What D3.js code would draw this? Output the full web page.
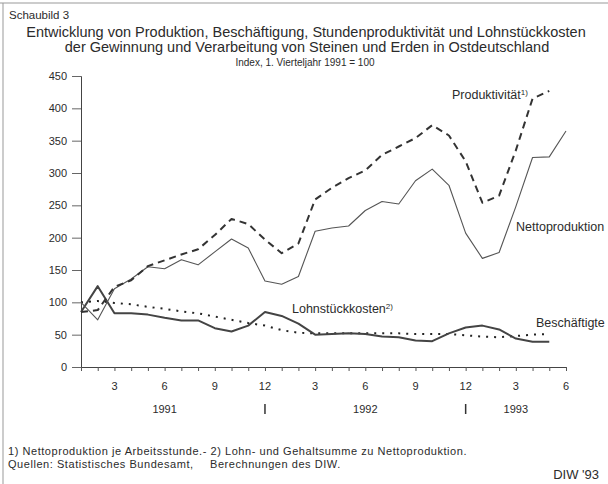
<!DOCTYPE html>
<html lang="de">
<head>
<meta charset="UTF-8">
<title>Schaubild 3</title>
<script src="https://d3js.org/d3.v7.min.js"></script>
<style>
    body { margin: 0; padding: 0; background: #fff; }
    svg { display: block; font-family: "Liberation Sans", Arial, sans-serif; }
    text { fill: #2b2b2b; }
</style>
</head>
<body>
<div id="chart"></div>
<script>
// Monate Jan 1991 .. Jun 1993
const periods = ["1991-01","1991-02","1991-03","1991-04","1991-05","1991-06","1991-07","1991-08","1991-09","1991-10","1991-11","1991-12",
                 "1992-01","1992-02","1992-03","1992-04","1992-05","1992-06","1992-07","1992-08","1992-09","1992-10","1992-11","1992-12",
                 "1993-01","1993-02","1993-03","1993-04","1993-05","1993-06"];
const monthTicks = ["1991-03","1991-06","1991-09","1991-12","1992-03","1992-06","1992-09","1992-12","1993-03","1993-06"];
const yearLabels = [["1991","1991-06"],["1992","1992-06"],["1993","1993-03"]];
const yearBreaks = ["1991-12","1992-12"];
const yTicks = [0, 50, 100, 150, 200, 250, 300, 350, 400, 450];

const nettoproduktion = [100,73,121,136,155,152,166,158,178,198,184,133,128,140,210,215,218,242,256,252,288,306,281,207,168,177,248,324,325,365];
const produktivitaet  = [85,88,124,134,156,165,174,182,204,229,221,197,176,191,259,277,292,304,328,341,354,374,358,318,254,265,335,415,427];
const lohnstueck      = [85,125,83,83,81,76,72,72,60,55,64,85,79,67,50,51,52,51,47,46,41,40,52,61,64,58,44,39,39];
const beschaeftigte   = [100,102,99,97,93,90,86,83,78,73,68,64,57,53,52,52,52,52,52,52,51,51,51,49,47,46,48,50,51];

const W = 608, H = 484;
const svg = d3.select("#chart").append("svg").attr("width", W).attr("height", H);

// Rahmen
svg.append("line").attr("x1", 0).attr("x2", W).attr("y1", 3).attr("y2", 3).attr("stroke", "#999").attr("stroke-width", 1);
svg.append("line").attr("x1", 3).attr("x2", 3).attr("y1", 3).attr("y2", H).attr("stroke", "#999").attr("stroke-width", 1);

// Titel
svg.append("text").attr("x", 9).attr("y", 19).attr("font-size", 11.5).text("Schaubild 3");
svg.append("text").attr("x", 306).attr("y", 37).attr("font-size", 14.5).attr("text-anchor", "middle")
    .text("Entwicklung von Produktion, Beschäftigung, Stundenproduktivität und Lohnstückkosten");
svg.append("text").attr("x", 307).attr("y", 52).attr("font-size", 14.5).attr("text-anchor", "middle")
    .text("der Gewinnung und Verarbeitung von Steinen und Erden in Ostdeutschland");
svg.append("text").attr("x", 305).attr("y", 66).attr("font-size", 10).attr("text-anchor", "middle")
    .text("Index, 1. Vierteljahr 1991 = 100");

const x = d3.scalePoint().domain(periods).range([81, 566]);
const y = d3.scaleLinear().domain([0, 450]).range([367, 76]);

// y-Achse
const yAxis = svg.append("g").attr("transform", "translate(81,0)")
    .call(d3.axisLeft(y).tickValues(yTicks).tickSize(9).tickPadding(5));
yAxis.select(".domain").attr("stroke", "#444");
yAxis.selectAll(".tick line").attr("stroke", "#666");
yAxis.selectAll("text").attr("font-size", 11).attr("font-family", "Liberation Sans, Arial, sans-serif").attr("fill", "#2b2b2b");

// x-Achse
const xAxis = svg.append("g").attr("transform", "translate(0,367)")
    .call(d3.axisBottom(x).tickSize(4).tickSizeOuter(0).tickFormat(""));
xAxis.select(".domain").attr("stroke", "#444");
xAxis.selectAll(".tick line").attr("stroke", "#555");

svg.append("g").selectAll("text").data(monthTicks).join("text")
    .attr("x", d => x(d)).attr("y", 390).attr("font-size", 11).attr("text-anchor", "middle")
    .text(d => +d.slice(5));
svg.append("g").selectAll("text").data(yearLabels).join("text")
    .attr("x", d => x(d[1])).attr("y", 413).attr("font-size", 11).attr("text-anchor", "middle")
    .text(d => d[0]);
svg.append("g").selectAll("line").data(yearBreaks).join("line")
    .attr("x1", d => x(d)).attr("x2", d => x(d)).attr("y1", 404).attr("y2", 414)
    .attr("stroke", "#333").attr("stroke-width", 1.5);

// Linien
const line = d3.line().x((d, i) => x(periods[i])).y(d => y(d));
const series = [
    { data: beschaeftigte, stroke: "#222", width: 2, dash: "2,6" },
    { data: lohnstueck, stroke: "#444", width: 2, dash: null },
    { data: nettoproduktion, stroke: "#555", width: 1.1, dash: null },
    { data: produktivitaet, stroke: "#333", width: 2, dash: "7,5" }
];
svg.append("g").attr("fill", "none").selectAll("path").data(series).join("path")
    .attr("d", d => line(d.data))
    .attr("stroke", d => d.stroke)
    .attr("stroke-width", d => d.width)
    .attr("stroke-dasharray", d => d.dash)
    .attr("stroke-linejoin", "round");

// Beschriftungen
function label(px, py, txt, sup) {
    const t = svg.append("text").attr("x", px).attr("y", py).attr("font-size", 12.5).text(txt);
    if (sup) t.append("tspan").attr("dy", -4).attr("font-size", 8).text(sup);
}
label(452, 99, "Produktivität", "1)");
label(516, 231, "Nettoproduktion");
label(292, 313, "Lohnstückkosten", "2)");
label(536, 327, "Beschäftigte");

// Fussnoten
svg.append("text").attr("x", 8).attr("y", 455).attr("font-size", 11).attr("letter-spacing", 0.55)
    .text("1) Nettoproduktion je Arbeitsstunde.- 2) Lohn- und Gehaltsumme zu Nettoproduktion.");
const q = svg.append("text").attr("x", 8).attr("y", 468).attr("font-size", 11).attr("letter-spacing", 0.55)
    .text("Quellen: Statistisches Bundesamt,");
q.append("tspan").attr("x", 210).text("Berechnungen des DIW.");
svg.append("text").attr("x", 599).attr("y", 479).attr("font-size", 13).attr("text-anchor", "end").text("DIW '93");
</script>
</body>
</html>
